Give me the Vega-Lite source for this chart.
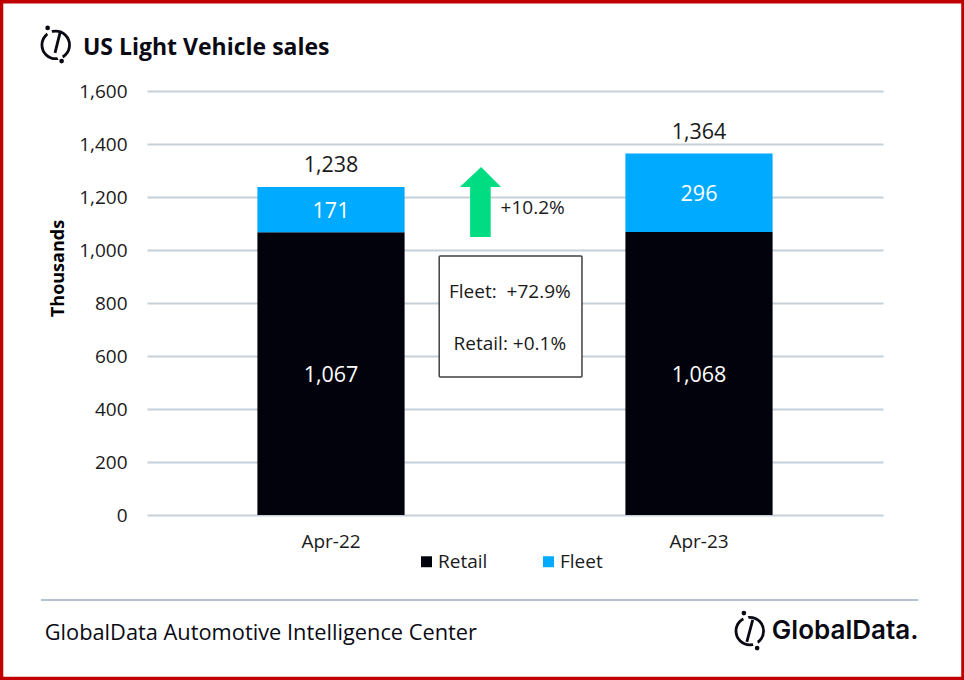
{
"$schema":"https://vega.github.io/schema/vega-lite/v6.json",
"width":736,"height":424,
"autosize":"none",
"padding":{"left":147,"top":91,"right":81,"bottom":165},
"background":"white",
"config":{"font":"Open Sans","numberFormat":",","view":{"stroke":null},"text":{"font":"Open Sans"}},
"resolve":{"scale":{"x":"independent"},"axis":{"x":"independent"}},
"layer":[
{"data":{"values":[{"month":"Apr-22","series":"Retail","value":1067,"ord":1},{"month":"Apr-22","series":"Fleet","value":171,"ord":2},{"month":"Apr-23","series":"Retail","value":1068,"ord":1},{"month":"Apr-23","series":"Fleet","value":296,"ord":2}]},
"mark":{"type":"bar"},
"encoding":{
"x":{"field":"month","type":"nominal","title":null,"scale":{"paddingInner":0.6,"paddingOuter":0.3},"axis":{"labelAngle":0,"labelFontSize":19,"labelColor":"#1a1a1a","labelPadding":17,"ticks":false,"domain":false}},
"y":{"field":"value","type":"quantitative","stack":"zero","title":"Thousands","scale":{"domain":[0,1600],"nice":false},"axis":{"values":[0,200,400,600,800,1000,1200,1400,1600],"format":",","labelExpr":"format(datum.value, ',')","grid":true,"gridColor":"#c5d0d8","gridWidth":2,"ticks":false,"domain":false,"labelFontSize":19,"labelColor":"#1a1a1a","labelPadding":20,"titleFontSize":18,"titleFontWeight":"bold","titleColor":"#000000","titleX":-80,"titleY":177}},
"order":{"field":"ord","type":"ordinal"},
"color":{"field":"series","type":"nominal","scale":{"domain":["Retail","Fleet"],"range":["#02020c","#00aaff"]},"legend":{"title":null,"orient":"none","legendX":270,"legendY":461,"direction":"horizontal","symbolType":"square","symbolSize":120,"symbolStrokeWidth":0,"labelFontSize":19,"labelColor":"#1a1a1a","columnPadding":51,"labelOffset":2}}
}},
{"data":{"values":[{"month":"Apr-22","series":"Retail","value":1067,"ord":1},{"month":"Apr-22","series":"Fleet","value":171,"ord":2},{"month":"Apr-23","series":"Retail","value":1068,"ord":1},{"month":"Apr-23","series":"Fleet","value":296,"ord":2}]},
"transform":[{"stack":"value","groupby":["month"],"sort":[{"field":"ord"}],"as":["v0","v1"]},{"calculate":"(datum.v0+datum.v1)/2","as":"mid"}],
"mark":{"type":"text","fontSize":21.5,"color":"#ffffff","dy":2.5},
"encoding":{
"x":{"field":"month","type":"nominal","title":null,"scale":{"paddingInner":0.6,"paddingOuter":0.3},"axis":null},
"y":{"field":"mid","type":"quantitative"},
"text":{"field":"value","type":"quantitative","format":","}
}},
{"data":{"values":[{"month":"Apr-22","total":1238},{"month":"Apr-23","total":1364}]},
"mark":{"type":"text","fontSize":21.5,"color":"#1a1a1a","dy":-20.5},
"encoding":{
"x":{"field":"month","type":"nominal","scale":{"paddingInner":0.6,"paddingOuter":0.3},"axis":null},
"y":{"field":"total","type":"quantitative"},
"text":{"field":"total","type":"quantitative","format":","}
}},
{"data":{"values":[{"x":43.9,"x2":46.7,"y":1049,"y2":1238}]},
"mark":{"type":"rect","color":"#00dc82"},
"encoding":{"x":{"field":"x","type":"quantitative","scale":{"domain":[0,100]},"axis":null},"x2":{"field":"x2"},"y":{"field":"y","type":"quantitative"},"y2":{"field":"y2"}}},
{"data":{"values":[{"x":42.5,"y":1238,"b":1238},{"x":45.4,"y":1313,"b":1238},{"x":48.1,"y":1238,"b":1238}]},
"mark":{"type":"area","color":"#00dc82","opacity":1},
"encoding":{"x":{"field":"x","type":"quantitative","scale":{"domain":[0,100]},"axis":null},"y":{"field":"y","type":"quantitative","stack":null},"y2":{"field":"b"}}},
{"data":{"values":[{"x":39.7,"x2":59.1,"y":521,"y2":977}]},
"mark":{"type":"rect","fill":"#ffffff","stroke":"#404040","strokeWidth":1.5,"cornerRadius":1},
"encoding":{"x":{"field":"x","type":"quantitative","scale":{"domain":[0,100]},"axis":null},"x2":{"field":"x2"},"y":{"field":"y","type":"quantitative"},"y2":{"field":"y2"}}},
{"data":{"values":[{"x":52.4,"y":1159,"t":"+10.2%"},{"x":49.3,"y":842,"t":"Fleet:\u00a0 +72.9%"},{"x":49.3,"y":645,"t":"Retail: +0.1%"}]},
"mark":{"type":"text","fontSize":19,"color":"#1a1a1a"},
"encoding":{"x":{"field":"x","type":"quantitative","scale":{"domain":[0,100]},"axis":null},"y":{"field":"y","type":"quantitative"},"text":{"field":"t"}}},
{"data":{"values":[{"x":-8.7,"y":1762,"t":"US Light Vehicle sales"}]},
"mark":{"type":"text","fontSize":23,"fontWeight":"bold","color":"#0a0a14","align":"left"},
"encoding":{"x":{"field":"x","type":"quantitative","scale":{"domain":[0,100]},"axis":null},"y":{"field":"y","type":"quantitative"},"text":{"field":"t"}}},
{"data":{"values":[{"x":-13.9,"y":-446,"t":"GlobalData Automotive Intelligence Center"}]},
"mark":{"type":"text","fontSize":21.8,"color":"#0a0a14","align":"left"},
"encoding":{"x":{"field":"x","type":"quantitative","scale":{"domain":[0,100]},"axis":null},"y":{"field":"y","type":"quantitative"},"text":{"field":"t"}}},
{"data":{"values":[{"x":84.9,"y":-438,"t":"GlobalData."}]},
"mark":{"type":"text","font":"Inter","fontSize":26,"fontWeight":600,"color":"#0a0a14","align":"left"},
"encoding":{"x":{"field":"x","type":"quantitative","scale":{"domain":[0,100]},"axis":null},"y":{"field":"y","type":"quantitative"},"text":{"field":"t"}}},
{"data":{"values":[{"x":-14.4,"x2":104.8,"y":-321,"y2":-321}]},
"mark":{"type":"rule","color":"#b4c3cf","strokeWidth":2},
"encoding":{"x":{"field":"x","type":"quantitative","scale":{"domain":[0,100]},"axis":null},"x2":{"field":"x2"},"y":{"field":"y","type":"quantitative"},"y2":{"field":"y2"}}},
{"data":{"values":[{"x":-12.4,"y":1774},{"x":81.9,"y":-438}]},
"mark":{"type":"point","shape":"circle","filled":false,"size":760,"stroke":"#0a0a14","strokeWidth":2.8,"opacity":1},
"encoding":{"x":{"field":"x","type":"quantitative","scale":{"domain":[0,100]},"axis":null},"y":{"field":"y","type":"quantitative"}}},
{"data":{"values":[{"x":-13.5,"y":1838,"x2":-11.6,"y2":1713},{"x":81.1,"y":-370,"x2":82.9,"y2":-502}]},
"mark":{"type":"rule","color":"#ffffff","strokeWidth":5},
"encoding":{"x":{"field":"x","type":"quantitative","scale":{"domain":[0,100]},"axis":null},"x2":{"field":"x2"},"y":{"field":"y","type":"quantitative"},"y2":{"field":"y2"}}},
{"data":{"values":[{"x":-11.82,"y":1819,"x2":-12.5,"y2":1744},{"x":82.3,"y":-396,"x2":81.5,"y2":-479}]},
"mark":{"type":"rule","color":"#0a0a14","strokeWidth":2.8},
"encoding":{"x":{"field":"x","type":"quantitative","scale":{"domain":[0,100]},"axis":null},"x2":{"field":"x2"},"y":{"field":"y","type":"quantitative"},"y2":{"field":"y2"}}},
{"data":{"values":[{"x":-13.5,"y":1838},{"x":-11.6,"y":1713},{"x":81.1,"y":-370},{"x":82.9,"y":-502}]},
"mark":{"type":"point","shape":"circle","filled":true,"size":22,"color":"#0a0a14","opacity":1},
"encoding":{"x":{"field":"x","type":"quantitative","scale":{"domain":[0,100]},"axis":null},"y":{"field":"y","type":"quantitative"}}},
{"data":{"values":[{"x":-19.8,"x2":110.9,"y":1938,"y2":-618}]},
"mark":{"type":"rect","fillOpacity":0,"stroke":"#c00000","strokeWidth":4},
"encoding":{"x":{"field":"x","type":"quantitative","scale":{"domain":[0,100]},"axis":null},"x2":{"field":"x2"},"y":{"field":"y","type":"quantitative"},"y2":{"field":"y2"}}}
]
}
